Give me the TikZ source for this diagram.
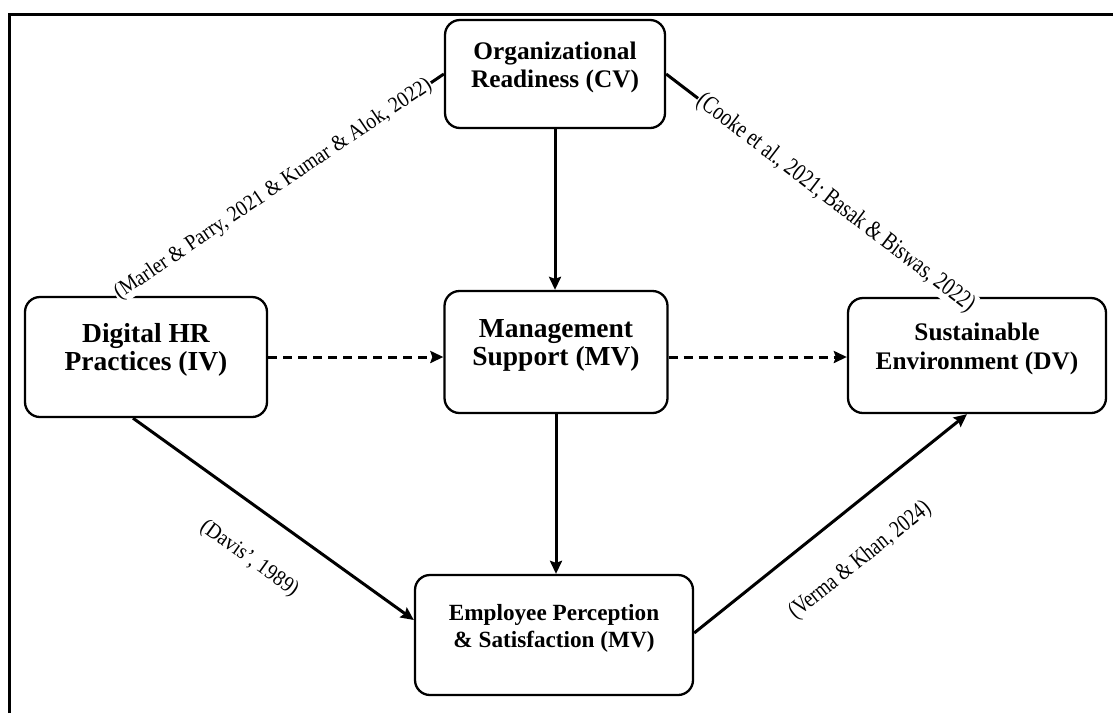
\documentclass[tikz,border=0pt]{standalone}
\usepackage{fontspec}
\setmainfont{Liberation Serif}
\usepackage{graphicx}
\usetikzlibrary{arrows.meta}

\tikzset{
  varbox/.style={draw, line width=2.3pt, rounded corners=15pt, inner sep=0pt},
  link/.style={line width=3pt, -{Stealth[length=13pt,width=12pt,inset=2pt]}},
  dashlink/.style={link, dash pattern=on 9pt off 6pt},
  citeline/.style={line width=3pt},
  cite/.style={fill=white, inner sep=1pt, sloped},
}
\newcommand{\bigvar}{\bfseries\fontsize{27.5}{28.5}\selectfont}
\newcommand{\midvar}{\bfseries\fontsize{25.3}{28.5}\selectfont}
\newcommand{\smallvar}{\bfseries\fontsize{23.2}{27}\selectfont}
% two lines, lifted a little above the box centre
\newcommand{\twolines}[2]{\raisebox{6pt}[\height][\depth]{\begin{tabular}{@{}c@{}}#1\\#2\end{tabular}}}

\begin{document}
\begin{tikzpicture}[x=1pt,y=-1pt]
\useasboundingbox (0,0) rectangle (1113,713);
\draw[line width=3pt] (9,713) -- (9,14) -- (1113,14);
%
\node[varbox, minimum width=220pt, minimum height=108pt, font=\midvar] (cv) at (555,74) {\twolines{Organizational}{Readiness (CV)}};
\node[varbox, minimum width=242pt, minimum height=120pt, font=\bigvar] (iv) at (146,357) {\twolines{Digital HR}{Practices (IV)}};
\node[varbox, minimum width=223pt, minimum height=122pt, font=\bigvar] (ms) at (556,352) {\twolines{Management}{Support (MV)}};
\node[varbox, minimum width=258pt, minimum height=115pt, font=\midvar] (dv) at (977,355.5) {\twolines{Sustainable}{Environment (DV)}};
\node[varbox, minimum width=278pt, minimum height=120pt, font=\smallvar] (ep) at (554,635) {\twolines{Employee Perception}{\& Satisfaction (MV)}};
%
\draw[link] (cv.south) -- (cv.south |- ms.north);
\draw[link] (ms.south) -- (ms.south |- ep.north);
\draw[dashlink] (iv.east) -- (iv.east -| ms.west);
\draw[dashlink] (ms.east |- iv.east) -- (dv.west |- iv.east);
\draw[link] ([xshift=-13pt]iv.south) -- ([yshift=15pt]ep.west)
  node[cite, fill=none, pos=0.51, below=34pt, font=\fontsize{22}{24}\selectfont] {\scalebox{0.9}[1]{(Davis', 1989)}};
\draw[link] ([yshift=2pt]ep.east) -- ([xshift=-10pt]dv.south)
  node[cite, fill=none, pos=0.5, below=34pt, font=\fontsize{24}{26}\selectfont] {\scalebox{0.79}[1]{(Verma \& Khan, 2024)}};
%
\draw[citeline] (cv.west) -- ([xshift=-30pt]iv.north)
  node[cite, pos=0.52, font=\fontsize{22}{24}\selectfont] {\scalebox{0.9}[1]{(Marler \& Parry, 2021 \& Kumar \& Alok, 2022)}};
\draw[citeline] (cv.east) -- ([xshift=-19pt]dv.north)
  node[cite, pos=0.58, font=\fontsize{25}{27}\selectfont] {\scalebox{0.78}[1]{(Cooke et al., 2021; Basak \& Biswas, 2022)}};
\end{tikzpicture}
\end{document}
